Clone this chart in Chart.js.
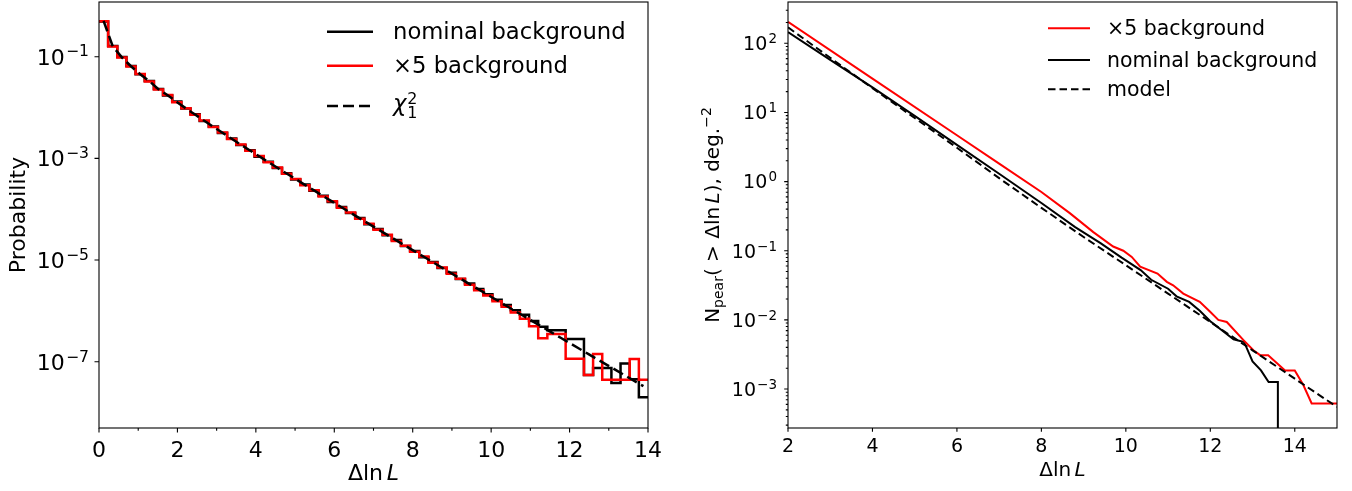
<!DOCTYPE html>
<html>
<head>
<meta charset="utf-8">
<script src="https://cdn.jsdelivr.net/npm/chart.js@4.4.1/dist/chart.umd.min.js"></script>
<style>
  html, body { margin: 0; padding: 0; background: #fff; }
  #wrap { position: relative; width: 1352px; height: 491px; }
  canvas { position: absolute; top: 0; }
  #probChart { left: 0; }
  #cumChart { left: 680px; }
</style>
</head>
<body>
<div id="wrap">
  <canvas id="probChart" width="680" height="491"></canvas>
  <canvas id="cumChart" width="672" height="491"></canvas>
</div>
<script>
// ---------- left panel: per-bin probability of Δln L ----------

const histEdges = [
  0, 0.233, 0.467, 0.7, 0.933, 1.167, 1.4, 1.633, 1.867, 2.1,
  2.333, 2.567, 2.8, 3.033, 3.267, 3.5, 3.733, 3.967, 4.2, 4.433,
  4.667, 4.9, 5.133, 5.367, 5.6, 5.833, 6.067, 6.3, 6.533, 6.767,
  7, 7.233, 7.467, 7.7, 7.933, 8.167, 8.4, 8.633, 8.867, 9.1,
  9.333, 9.567, 9.8, 10.033, 10.267, 10.5, 10.733, 10.967, 11.2, 11.433,
  11.667, 11.9, 12.133, 12.367, 12.6, 12.833, 13.067, 13.3, 13.533, 13.767,
  14,
];

const probNominal = [
  0.490, 0.162, 0.0985, 0.0655, 0.0450, 0.0334, 0.0232, 0.0172, 0.0131, 0.00955,
  0.00734, 0.00545, 0.00421, 0.00315, 0.00246, 0.00184, 0.00145, 0.00108, 8.58e-4, 6.45e-4,
  5.10e-4, 3.86e-4, 3.05e-4, 2.31e-4, 1.84e-4, 1.39e-4, 1.11e-4, 8.40e-5, 6.70e-5, 5.08e-5,
  4.06e-5, 3.09e-5, 2.47e-5, 1.88e-5, 1.51e-5, 1.14e-5, 9.20e-6, 6.96e-6, 5.62e-6, 4.25e-6,
  3.45e-6, 2.70e-6, 2.12e-6, 1.66e-6, 1.30e-6, 1.03e-6, 8.40e-7, 6.30e-7, 4.90e-7, 4.15e-7,
  4.15e-7, 2.80e-7, 2.80e-7, 5.50e-8, 7.50e-8, 7.50e-8, 3.80e-8, 9.20e-8, 4.50e-8, 2.00e-8,
];

const probX5 = [
  0.500, 0.158, 0.0960, 0.0642, 0.0457, 0.0326, 0.0227, 0.0176, 0.0127, 0.00970,
  0.00718, 0.00553, 0.00412, 0.00322, 0.00240, 0.00188, 0.00141, 0.00111, 8.36e-4, 6.60e-4,
  4.97e-4, 3.94e-4, 2.97e-4, 2.37e-4, 1.78e-4, 1.43e-4, 1.07e-4, 8.60e-5, 6.50e-5, 5.20e-5,
  3.93e-5, 3.16e-5, 2.38e-5, 1.92e-5, 1.45e-5, 1.17e-5, 8.85e-6, 7.10e-6, 5.40e-6, 4.30e-6,
  3.25e-6, 2.55e-6, 2.00e-6, 1.55e-6, 1.20e-6, 9.30e-7, 7.00e-7, 5.00e-7, 2.90e-7, 3.50e-7,
  3.50e-7, 1.15e-7, 1.15e-7, 5.50e-8, 1.42e-7, 4.40e-8, 4.40e-8, 4.40e-8, 1.13e-7, 4.40e-8,
];

// chi-square (1 dof) expectation per bin, plotted at bin centres
const probChi2 = [
  0.506, 0.160, 0.0970, 0.0648, 0.0453, 0.0330, 0.0229, 0.0174, 0.0129, 0.00963,
  0.00726, 0.00549, 0.00417, 0.00318, 0.00243, 0.00186, 0.00143, 0.00110, 8.46e-4, 6.52e-4,
  5.04e-4, 3.90e-4, 3.01e-4, 2.34e-4, 1.81e-4, 1.41e-4, 1.09e-4, 8.49e-5, 6.60e-5, 5.14e-5,
  4.00e-5, 3.12e-5, 2.43e-5, 1.90e-5, 1.48e-5, 1.16e-5, 9.03e-6, 7.05e-6, 5.51e-6, 4.31e-6,
  3.37e-6, 2.64e-6, 2.06e-6, 1.62e-6, 1.26e-6, 9.90e-7, 7.75e-7, 6.08e-7, 4.76e-7, 3.73e-7,
  2.93e-7, 2.29e-7, 1.80e-7, 1.41e-7, 1.11e-7, 8.69e-8, 6.82e-8, 5.36e-8, 4.20e-8, 3.30e-8,
];

const probXTicks = [0, 2, 4, 6, 8, 10, 12, 14];
const probXMinor = [1, 3, 5, 7, 9, 11, 13];
const probYTicks = [1e-1, 1e-3, 1e-5, 1e-7];
const PROB_Y_MIN = 4.97e-9;
const PROB_Y_MAX = 1.19;

// ---------- right panel: cumulative counts N(>Δln L) ----------

const cumX5X = [2, 4, 6, 7, 8, 8.68, 9.23, 9.7, 9.94, 10.14, 10.34, 10.75, 10.97, 11.12,
  11.36, 11.75, 11.99, 12.19, 12.39, 12.78, 13.02, 13.18, 13.37, 13.77, 14.0, 14.2, 14.4, 15.0];
const cumX5 = [204, 30.9, 4.68, 1.82, 0.708, 0.347, 0.186, 0.115, 0.100, 0.0813, 0.0589, 0.0468,
  0.0355, 0.0316, 0.0240, 0.0182, 0.0132, 0.0100, 0.00933, 0.00513, 0.00363, 0.00309,
  0.00309, 0.00186, 0.00186, 0.00115, 0.000617, 0.000617];

const cumNomX = [2, 3, 4, 5, 6, 7, 8, 8.8, 9.4, 9.9, 10.35, 10.6, 11.0, 11.2, 11.5, 11.75,
  12.0, 12.25, 12.55, 12.8, 13.0, 13.2, 13.38, 13.6, 13.6];
const cumNom = [145, 57.5, 23.0, 8.9, 3.4, 1.30, 0.490, 0.219, 0.129, 0.0794, 0.0525, 0.0380,
  0.0282, 0.0219, 0.0182, 0.0135, 0.00955, 0.00724, 0.00525, 0.00479, 0.00251, 0.00186,
  0.00126, 0.00126, 0];

const cumModelX = [2, 3, 4, 5, 6, 7, 8, 9, 10, 11, 12, 13, 14, 15];
const cumModel = [170, 61.7, 22.4, 8.32, 3.09, 1.12, 0.417, 0.158, 0.0617, 0.0240, 0.00933,
  0.00363, 0.00141, 0.00055];

const cumXTicks = [2, 4, 6, 8, 10, 12, 14];
const cumYTicks = [1e2, 1e1, 1, 1e-1, 1e-2, 1e-3];
const CUM_Y_MIN = 2.73e-4;
const CUM_Y_MAX = 395.6;

// minor log ticks 2..9 in each decade inside the range
const cumYMinor = [];
for (let e = -4; e <= 2; e++) {
  for (let m = 2; m <= 9; m++) {
    const v = m * Math.pow(10, e);
    if (v > CUM_Y_MIN && v < CUM_Y_MAX) cumYMinor.push(v);
  }
}

// ---------- helpers ----------

const FONT = "'DejaVu Sans', 'Liberation Sans', sans-serif";
const font = (size, italic) => `${italic ? 'italic ' : ''}${size}px ${FONT}`;
const MINUS = '\u2212';

// histogram outline: each value holds from its left edge to the next one
const histPoints = vals => {
  const pts = vals.map((v, i) => ({ x: histEdges[i], y: v }));
  pts.push({ x: histEdges[vals.length], y: vals[vals.length - 1] });
  return pts;
};
const centrePoints = vals => vals.map((v, i) => ({ x: (histEdges[i] + histEdges[i + 1]) / 2, y: v }));
// a count of zero has no place on a log axis: send it to the axis floor
const xyPoints = (xs, ys, floor) => xs.map((x, i) => ({ x, y: ys[i] > 0 ? ys[i] : floor }));

function partWidth(ctx, p, size) {
  if (p.gap) return p.gap * size;
  const s = size * (p.scale || 1);
  ctx.font = font(s, p.it);
  if (p.stack) return Math.max(...p.stack.map(t => ctx.measureText(t).width));
  return ctx.measureText(p.t).width;
}

// text made of runs with their own size, slant and baseline shift
function drawRich(ctx, parts, x, y, size, align) {
  const w = parts.reduce((s, p) => s + partWidth(ctx, p, size), 0);
  let cx = align === 'center' ? x - w / 2 : align === 'right' ? x - w : x;
  ctx.textAlign = 'left';
  ctx.textBaseline = 'alphabetic';
  for (const p of parts) {
    const adv = partWidth(ctx, p, size);
    if (p.stack) {
      ctx.fillText(p.stack[0], cx, y - 0.32 * size);
      ctx.fillText(p.stack[1], cx, y + 0.32 * size);
    } else if (!p.gap) {
      ctx.fillText(p.t, cx, y + (p.dy || 0) * size);
    }
    cx += adv;
  }
}

function drawPow(ctx, xRight, yMid, size) {
  return exp => {
    const sup = exp < 0 ? MINUS + (-exp) : String(exp);
    drawRich(ctx, [{ t: '10' }, { gap: 0.06 }, { t: sup, scale: 0.71, dy: -0.37 }], xRight, yMid + 0.36 * size, size, 'right');
  };
}

const dlnL = [{ t: '\u0394ln' }, { gap: 0.17 }, { t: 'L', it: true }];

// spines, ticks, tick labels, axis titles and legend
function drawDecor(chart, d) {
  const { ctx, chartArea: a, scales: { x, y } } = chart;
  ctx.save();
  ctx.fillStyle = '#000';
  ctx.strokeStyle = '#000';
  ctx.setLineDash([]);
  ctx.lineWidth = 1.1;
  ctx.strokeRect(a.left, a.top, a.right - a.left, a.bottom - a.top);

  ctx.beginPath();
  d.xTicks.forEach(v => { const p = x.getPixelForValue(v); ctx.moveTo(p, a.bottom); ctx.lineTo(p, a.bottom + d.major); });
  d.xMinor.forEach(v => { const p = x.getPixelForValue(v); ctx.moveTo(p, a.bottom); ctx.lineTo(p, a.bottom + d.minor); });
  d.yTicks.forEach(v => { const p = y.getPixelForValue(v); ctx.moveTo(a.left, p); ctx.lineTo(a.left - d.major, p); });
  d.yMinor.forEach(v => { const p = y.getPixelForValue(v); ctx.moveTo(a.left, p); ctx.lineTo(a.left - d.minor, p); });
  ctx.stroke();

  ctx.font = font(d.tickSize);
  ctx.textAlign = 'center';
  ctx.textBaseline = 'alphabetic';
  d.xTicks.forEach(v => ctx.fillText(String(v), x.getPixelForValue(v), a.bottom + d.xTickBase));
  d.yTicks.forEach(v => drawPow(ctx, a.left - d.yTickGap, y.getPixelForValue(v), d.tickSize)(Math.round(Math.log10(v))));

  drawRich(ctx, dlnL, (a.left + a.right) / 2, d.xTitleBase, d.titleSize, 'center');

  ctx.save();
  ctx.translate(d.yTitleX, (a.top + a.bottom) / 2);
  ctx.rotate(-Math.PI / 2);
  drawRich(ctx, d.yTitle, 0, 0, d.titleSize, 'center');
  ctx.restore();

  const L = d.legend;
  L.items.forEach(it => {
    ctx.beginPath();
    ctx.strokeStyle = it.color;
    ctx.lineWidth = it.width;
    ctx.setLineDash(it.dash || []);
    ctx.moveTo(L.x1, it.y);
    ctx.lineTo(L.x2, it.y);
    ctx.stroke();
    ctx.setLineDash([]);
    ctx.fillStyle = '#000';
    drawRich(ctx, it.label, L.textX, it.y + (it.base || L.base), L.size, 'left');
  });
  ctx.restore();
}

const lineDefaults = { pointRadius: 0, fill: false, tension: 0 };

// ---------- left chart ----------

new Chart(document.getElementById('probChart'), {
  type: 'line',
  data: {
    datasets: [
      { ...lineDefaults, label: 'nominal background', data: histPoints(probNominal), borderColor: '#000000', borderWidth: 2.5, stepped: 'before', order: 3 },
      { ...lineDefaults, label: '×5 background', data: histPoints(probX5), borderColor: '#ff0000', borderWidth: 2.5, stepped: 'before', order: 2 },
      { ...lineDefaults, label: 'chi2_1', data: centrePoints(probChi2), borderColor: '#000000', borderWidth: 2.5, borderDash: [11, 5], order: 1 },
    ],
  },
  options: {
    responsive: false,
    animation: false,
    layout: { padding: { left: 99, right: 32, top: 2, bottom: 63 } },
    scales: {
      x: { type: 'linear', min: 0, max: 14, bounds: 'data', display: false },
      y: { type: 'logarithmic', min: PROB_Y_MIN, max: PROB_Y_MAX, bounds: 'data', display: false },
    },
    plugins: { legend: { display: false }, tooltip: { enabled: false } },
  },
  plugins: [{
    id: 'probDecor',
    afterDraw: c => drawDecor(c, {
      xTicks: probXTicks, xMinor: probXMinor, yTicks: probYTicks, yMinor: [],
      major: 4.5, minor: 2.8, tickSize: 22, xTickBase: 29, yTickGap: 10,
      titleSize: 22, xTitleBase: 480, yTitleX: 25,
      yTitle: [{ t: 'Probability' }],
      legend: {
        x1: 327, x2: 373, textX: 393, size: 22.7, base: 7,
        items: [
          { y: 31.7, color: '#000000', width: 2.5, label: [{ t: 'nominal background' }] },
          { y: 65.7, color: '#ff0000', width: 2.5, label: [{ t: '×5 background' }] },
          { y: 106, color: '#000000', width: 2.5, dash: [11, 5], base: 5,
            label: [{ t: '\u03C7', it: true }, { gap: 0.04 }, { stack: ['2', '1'], scale: 0.7 }] },
        ],
      },
    }),
  }],
});

// ---------- right chart ----------

new Chart(document.getElementById('cumChart'), {
  type: 'line',
  data: {
    datasets: [
      { ...lineDefaults, label: '×5 background', data: xyPoints(cumX5X, cumX5, CUM_Y_MIN / 10), borderColor: '#ff0000', borderWidth: 2, order: 2 },
      { ...lineDefaults, label: 'nominal background', data: xyPoints(cumNomX, cumNom, CUM_Y_MIN / 10), borderColor: '#000000', borderWidth: 2, order: 3 },
      { ...lineDefaults, label: 'model', data: xyPoints(cumModelX, cumModel, CUM_Y_MIN / 10), borderColor: '#000000', borderWidth: 2, borderDash: [7.5, 4], order: 1 },
    ],
  },
  options: {
    responsive: false,
    animation: false,
    layout: { padding: { left: 108, right: 15, top: 2, bottom: 63 } },
    scales: {
      x: { type: 'linear', min: 2, max: 15, bounds: 'data', display: false },
      y: { type: 'logarithmic', min: CUM_Y_MIN, max: CUM_Y_MAX, bounds: 'data', display: false },
    },
    plugins: { legend: { display: false }, tooltip: { enabled: false } },
  },
  plugins: [{
    id: 'cumDecor',
    afterDraw: c => drawDecor(c, {
      xTicks: cumXTicks, xMinor: [], yTicks: cumYTicks, yMinor: cumYMinor,
      major: 3.8, minor: 2.2, tickSize: 19, xTickBase: 24, yTickGap: 11,
      titleSize: 20, xTitleBase: 476, yTitleX: 39,
      yTitle: [
        { t: 'N' }, { t: 'pear', scale: 0.7, dy: 0.2 }, { t: '( > ' },
        ...dlnL, { t: '), deg.' }, { t: MINUS + '2', scale: 0.7, dy: -0.4 },
      ],
      legend: {
        x1: 368, x2: 410, textX: 427, size: 20.5, base: 6.5,
        items: [
          { y: 28.3, color: '#ff0000', width: 2, label: [{ t: '×5 background' }] },
          { y: 60, color: '#000000', width: 2, label: [{ t: 'nominal background' }] },
          { y: 89.3, color: '#000000', width: 2, dash: [7.5, 4], label: [{ t: 'model' }] },
        ],
      },
    }),
  }],
});
</script>
</body>
</html>
